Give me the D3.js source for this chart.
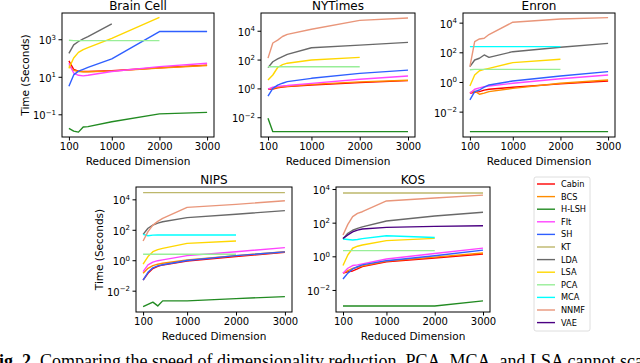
<!DOCTYPE html>
<html><head><meta charset="utf-8">
<script src="https://cdn.jsdelivr.net/npm/d3@7/dist/d3.min.js"></script>
<style>body{margin:0;background:#fff}svg{display:block}</style>
</head><body>
<svg id="chart" width="640" height="363"></svg>
<script>
// ---------------- data ----------------
const dims = [100, 200, 300, 400, 500, 1000, 2000, 3000];
const methods = ["Cabin","BCS","H-LSH","FIt","SH","KT","LDA","LSA","PCA","MCA","NNMF","VAE"];
const xTickValues = [100, 1000, 2000, 3000];
const panelTitles = ["Brain Cell","NYTimes","Enron","NIPS","KOS"];
const yTickExponents = [[-1,1,3],[-2,0,2,4],[-2,0,2,4],[-2,0,2,4],[-2,0,2,4]];

// time in seconds, one entry per reduced dimension (null = not run)
const brainCell = {
  "Cabin": [70.8, 25.1, 20.0, 19.1, 19.1, 20.9, 30.2, 41.7],
  "BCS":   [39.8, 22.4, 19.1, 18.6, 18.6, 20.0, 29.5, 39.8],
  "H-LSH": [0.0178, 0.0126, 0.0112, 0.0209, 0.0219, 0.0398, 0.105, 0.126],
  "FIt":   [52.5, 15.8, 12.0, 11.2, 12.0, 19.1, 34.7, 52.5],
  "SH":    [3.16, 12.6, 20.0, 25.1, 31.6, 89.1, 2570, 2570],
  "LDA":   [178, 501, 759, 1047, 1380, 6607, null, null],
  "LSA":   [28.2, 100, 200, 282, 355, 1122, 14790, null],
  "PCA":   [891, 851, 851, 851, 851, 851, 851, null]
};
const nyTimes = {
  "Cabin": [0.871, 0.912, 1.12, 1.26, 1.32, 1.74, 2.51, 3.47],
  "BCS":   [0.933, 1.00, 1.20, 1.32, 1.41, 1.91, 2.82, 3.72],
  "H-LSH": [0.0085, 0.0010, 0.0010, 0.0010, 0.0010, 0.0010, 0.0010, 0.0010],
  "FIt":   [0.891, 1.20, 1.38, 1.51, 1.58, 2.24, 4.27, 7.24],
  "SH":    [0.295, 1.00, 1.70, 2.29, 2.95, 5.01, 11.0, 18.6],
  "LDA":   [27.5, 70.8, 110, 158, 229, 661, 1000, 1549],
  "LSA":   [3.80, 8.51, 28.2, 44.7, 56.2, 93.3, 141, null],
  "PCA":   [31.6, 31.6, 31.6, 31.6, 31.6, 31.6, 31.6, null],
  "NNMF":  [126, 1413, 2239, 3981, 5623, 12589, 52481, 75858]
};
const enron = {
  "Cabin": [0.174, 0.200, 0.224, 0.282, 0.324, 0.437, 0.741, 1.17],
  "BCS":   [0.191, 0.240, 0.148, 0.178, 0.224, 0.372, 0.813, 1.35],
  "H-LSH": [0.00045, 0.00045, 0.00045, 0.00045, 0.00045, 0.00045, 0.00045, 0.00045],
  "FIt":   [0.174, 0.324, 0.398, 0.479, 0.537, 0.813, 1.66, 2.95],
  "SH":    [0.0617, 0.224, 0.288, 0.447, 0.631, 1.17, 2.51, 5.01],
  "LDA":   [10.7, 30.2, 39.8, 66.1, 45.7, 110, 219, 398],
  "LSA":   [0.537, 2.95, 5.75, 7.08, 8.32, 20.0, 33.9, null],
  "PCA":   [6.61, 7.08, 7.08, 7.08, 7.08, 7.08, 7.08, null],
  "MCA":   [240, 240, 240, 240, 240, 240, 240, null],
  "NNMF":  [10.7, 525, 794, 891, 1585, 10715, 17783, 21878]
};
const nips = {
  "Cabin": [0.0501, 0.138, 0.282, 0.398, 0.490, 0.891, 1.74, 3.31],
  "BCS":   [0.138, 0.295, 0.447, 0.550, 0.631, 1.05, 2.00, 3.63],
  "H-LSH": [0.00089, 0.00126, 0.00178, 0.00100, 0.00214, 0.00214, 0.00302, 0.00407],
  "FIt":   [0.178, 0.490, 0.759, 0.933, 1.05, 2.00, 3.63, 6.76],
  "SH":    [0.0501, 0.162, 0.316, 0.427, 0.501, 0.955, 2.00, 3.55],
  "KT":    [27542, 27542, 27542, 27542, 27542, 27542, 27542, 27542],
  "LDA":   [50.1, 126, 204, 275, 339, 631, 1047, 1820],
  "LSA":   [0.562, 1.74, 3.63, 5.01, 6.03, 12.9, 18.2, null],
  "PCA":   [2.45, 2.45, 2.45, 2.45, 2.45, 2.45, 2.45, null],
  "MCA":   [50.1, 40.7, 44.7, 45.7, 45.7, 45.7, 45.7, null],
  "NNMF":  [18.2, 75.9, 204, 355, 562, 2951, 4677, 8128]
};
const kos = {
  "Cabin": [0.100, 0.120, 0.135, 0.178, 0.245, 0.479, 0.794, 1.38],
  "BCS":   [0.100, 0.141, 0.191, 0.224, 0.269, 0.525, 0.891, 1.58],
  "H-LSH": [0.00112, 0.00112, 0.00112, 0.00112, 0.00112, 0.00112, 0.00112, 0.00224],
  "FIt":   [0.100, 0.195, 0.282, 0.309, 0.355, 0.692, 1.48, 3.09],
  "SH":    [0.0447, 0.100, 0.178, 0.240, 0.309, 0.550, 1.07, 2.34],
  "KT":    [5754, 5754, 5754, 5754, 5754, 5754, 5754, 5754],
  "LDA":   [10.7, 23.4, 35.5, 45.7, 56.2, 126, 251, 417],
  "LSA":   [0.282, 1.20, 3.02, 3.98, 4.68, 8.51, 11.7, null],
  "PCA":   [2.19, 2.19, 2.19, 2.19, 2.19, 2.19, 2.19, null],
  "MCA":   [10.7, 10.0, 9.33, 10.0, 11.2, 16.6, 13.2, null],
  "NNMF":  [18.6, 79.4, 229, 355, 447, 1950, 2951, 4365],
  "VAE":   [11.7, 18.6, 28.2, 36.3, 41.7, 52.5, 60.3, 66.1]
};
const panelData = [brainCell, nyTimes, enron, nips, kos];

// ---------------- styles / layout ----------------
const methodColors = {
  "Cabin":"#ff0000","BCS":"#ff8c00","H-LSH":"#228b22","FIt":"#ff44ff","SH":"#2f5fff",
  "KT":"#bdb76b","LDA":"#696969","LSA":"#ffd700","PCA":"#98ee98","MCA":"#00ffff",
  "NNMF":"#e9967a","VAE":"#4b0082"
};
const layout = [
  {x0:62,  x1:214, y0:13,  y1:137, lo:-2.21, hi:4.40, ylabel:true},
  {x0:261, x1:415, y0:13,  y1:137, lo:-3.37, hi:5.23, ylabel:false},
  {x0:463, x1:615, y0:13,  y1:137, lo:-3.71, hi:4.65, ylabel:false},
  {x0:136, x1:292, y0:187, y1:312, lo:-3.40, hi:4.81, ylabel:true},
  {x0:336, x1:490, y0:187, y1:312, lo:-3.31, hi:4.12, ylabel:false}
];
const FONT = "DejaVu Sans, sans-serif";
const svg = d3.select("#chart");
svg.append("rect").attr("width",640).attr("height",363).attr("fill","#fff");

panelData.forEach((data, i) => {
  const L = layout[i];
  const g = svg.append("g");
  const x = d3.scaleLinear().domain([-45, 3145]).range([L.x0, L.x1]);
  const y = d3.scaleLog().domain([Math.pow(10, L.lo), Math.pow(10, L.hi)]).range([L.y1, L.y0]);

  // lines
  const line = d3.line().defined(d => d[1] != null).x(d => x(d[0])).y(d => y(d[1]));
  methods.forEach(m => {
    if (!data[m]) return;
    const pts = dims.map((dv, k) => [dv, data[m][k]]);
    g.append("path").attr("d", line(pts)).attr("fill","none")
      .attr("stroke", methodColors[m]).attr("stroke-width",1.4)
      .attr("stroke-linejoin","round");
  });

  // box
  g.append("rect").attr("x",L.x0).attr("y",L.y0).attr("width",L.x1-L.x0).attr("height",L.y1-L.y0)
    .attr("fill","none").attr("stroke","#000").attr("stroke-width",1);

  // x axis
  const xa = g.append("g").attr("transform",`translate(0,${L.y1})`)
    .call(d3.axisBottom(x).tickValues(xTickValues).tickSize(3.5).tickPadding(2.5).tickFormat(d3.format("d")));
  xa.select(".domain").remove();
  xa.selectAll("text").attr("font-family",FONT).attr("font-size",10).attr("fill","#000");

  // y axis
  const ticks = yTickExponents[i].map(e => Math.pow(10, e));
  const ya = g.append("g").attr("transform",`translate(${L.x0},0)`)
    .call(d3.axisLeft(y).tickValues(ticks).tickSize(3.5).tickFormat(""));
  ya.select(".domain").remove();
  yTickExponents[i].forEach(e => {
    const t = g.append("text").attr("x", L.x0 - 6).attr("y", y(Math.pow(10,e)) + 5)
      .attr("text-anchor","end").attr("font-family",FONT).attr("font-size",10).attr("fill","#000");
    t.append("tspan").text("10");
    t.append("tspan").attr("dy",-4.5).attr("font-size",7).text(e < 0 ? "\u2212" + (-e) : String(e));
  });

  // title
  g.append("text").attr("x",(L.x0+L.x1)/2).attr("y",L.y0-3.5).attr("text-anchor","middle")
    .attr("font-family",FONT).attr("font-size",12).text(panelTitles[i]);
  // x label
  g.append("text").attr("x",(L.x0+L.x1)/2).attr("y",L.y1+27.5).attr("text-anchor","middle")
    .attr("font-family",FONT).attr("font-size",10.5).text("Reduced Dimension");
  if (L.ylabel) {
    const cy = (L.y0+L.y1)/2, cx = L.x0 - 33;
    g.append("text").attr("transform",`translate(${cx},${cy}) rotate(-90)`).attr("text-anchor","middle")
      .attr("font-family",FONT).attr("font-size",10.5).text("Time (Seconds)");
  }
});

// legend
const lg = svg.append("g");
lg.append("rect").attr("x",534).attr("y",177).attr("width",56).attr("height",154)
  .attr("rx",2).attr("fill","#fff").attr("stroke","#d6d6d6").attr("stroke-width",0.8);
methods.forEach((m, k) => {
  const yy = 184 + k * 12.6;
  lg.append("line").attr("x1",537).attr("x2",555).attr("y1",yy).attr("y2",yy)
    .attr("stroke",methodColors[m]).attr("stroke-width",1.4);
  lg.append("text").attr("x",561).attr("y",yy+3).attr("font-family",FONT)
    .attr("font-size",8.2).text(m);
});

// caption (cut off at the bottom edge as in the source)
const cap = svg.append("text").attr("x",-12).attr("y",367)
  .attr("font-family","Liberation Serif, Times New Roman, serif").attr("font-size",18).attr("fill","#000");
cap.append("tspan").attr("font-weight","bold").text("Fig. 2.");
cap.append("tspan").text(" Comparing the speed of dimensionality reduction. PCA, MCA, and LSA cannot scale");
</script>
</body></html>
